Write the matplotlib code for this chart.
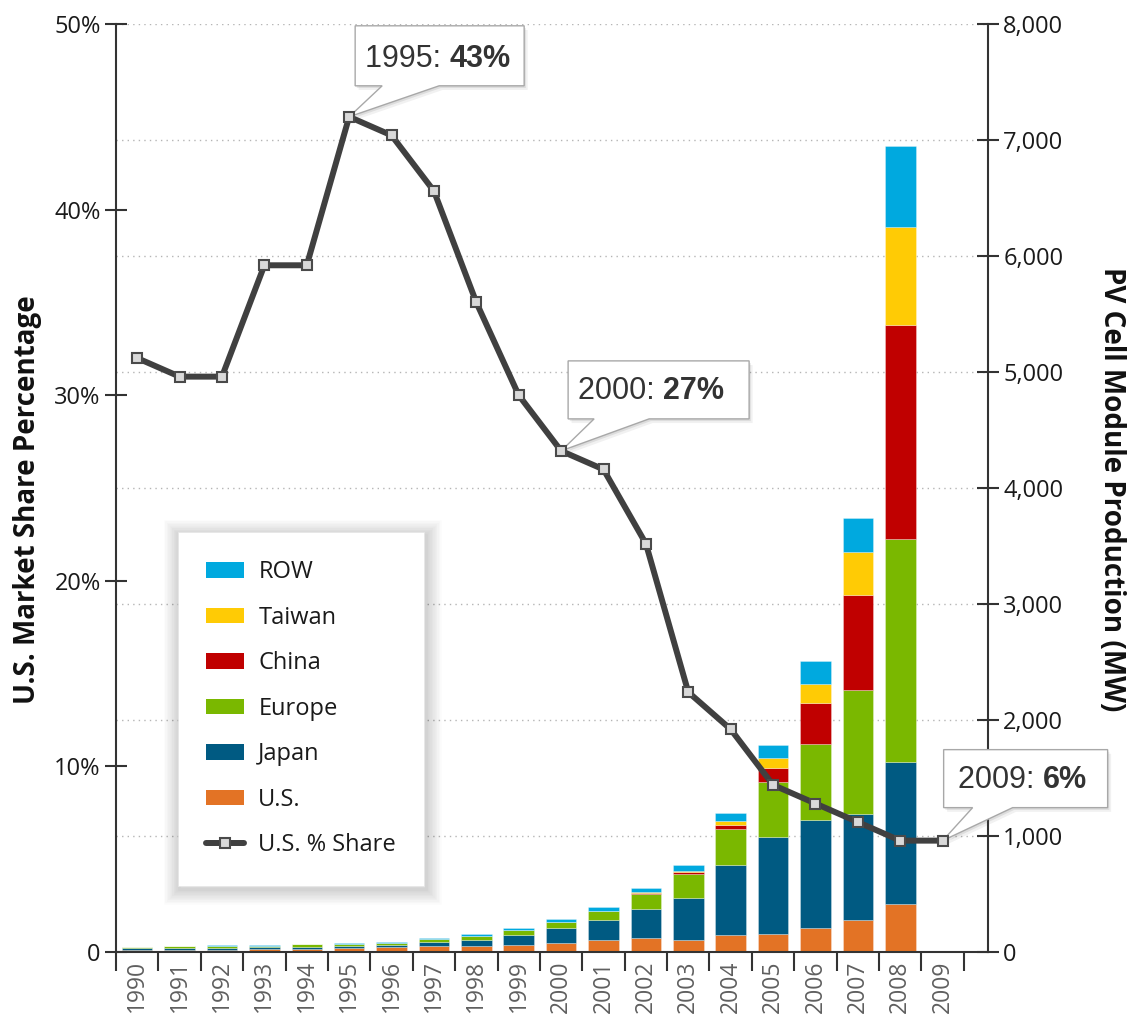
import numpy as np
import matplotlib
matplotlib.use("Agg")
import matplotlib.pyplot as plt
import matplotlib.transforms as mtransforms
import matplotlib.patheffects as pe
from matplotlib.patches import Patch, Polygon
from matplotlib.lines import Line2D

plt.rcParams['font.family'] = ['Open Sans', 'DejaVu Sans']

# ---- data ----
years = list(range(1990, 2010))
bar_years = years[:-1]          # no production bar drawn for 2009

# PV cell / module production by region, MW (stack order bottom -> top)
us_mw     = [15, 17, 18, 22, 26, 35, 39, 51, 55, 64, 78, 107, 124, 107, 144, 159, 207, 273, 417]
japan_mw  = [17, 20, 19, 17, 17, 16, 21, 35, 52, 80, 129, 166, 250, 362, 603, 832, 928, 920, 1221]
europe_mw = [10, 13, 16, 17, 22, 20, 19, 30, 31, 43, 49, 84, 126, 203, 311, 474, 661, 1063, 1925]
china_mw  = [0] * 12 + [10, 14, 40, 125, 348, 821, 1839]
taiwan_mw = [0] * 12 + [3, 13, 31, 86, 170, 371, 845]
row_mw    = [5, 5, 5, 4, 6, 6, 10, 9, 21, 20, 26, 34, 40, 54, 73, 112, 192, 293, 698]

# U.S. share of world production, %
us_share = [32, 31, 31, 37, 37, 45, 44, 41, 35, 30, 27, 26, 22, 14, 12, 9, 8, 7, 6, 6]

series_names = ['U.S.', 'Japan', 'Europe', 'China', 'Taiwan', 'ROW']
series_vals = [us_mw, japan_mw, europe_mw, china_mw, taiwan_mw, row_mw]
series_cols = ['#e37325', '#005a82', '#7ab800', '#c00000', '#ffcb05', '#00a9df']

pct_ticks = [0, 10, 20, 30, 40, 50]
pct_labels = ['0', '10%', '20%', '30%', '40%', '50%']
mw_ticks = [0, 1000, 2000, 3000, 4000, 5000, 6000, 7000, 8000]
mw_labels = ['0', '1,000', '2,000', '3,000', '4,000', '5,000', '6,000', '7,000', '8,000']

callout_years = [1995, 2000, 2009]
callout_values = ['43%', '27%', '6%']

# callout geometry in pixels relative to the marker: box x0,x1,y0,y1, tail base t0,t1, text x,y
bubble_geom = {1995: (6, 175, 31, 91, 33, 90, 16, 50),
               2000: (7, 188, 32, 90, 33, 88, 17, 52),
               2009: (1, 165, 33, 91, 30, 70, 15, 53)}

# ---- figure ----
W, H = 1128, 1019
fig = plt.figure(figsize=(W / 100, H / 100), dpi=100)
ax_mw = fig.add_axes([116 / W, 1 - 952 / H, (988 - 116) / W, (952 - 24) / H])
ax_pct = ax_mw.twinx()

x_bar = np.arange(len(bar_years))
x_all = np.arange(len(years))

# stacked bars
bottom = np.zeros(len(bar_years))
for name, vals, col in zip(series_names, series_vals, series_cols):
    ax_mw.bar(x_bar, vals, width=0.72, bottom=bottom, color=col,
              edgecolor=(1, 1, 1, 0.35), linewidth=0.6, zorder=2)
    bottom += np.array(vals)

# share line
ax_pct.plot(x_all, us_share, color='#404040', lw=4.3, marker='s', ms=7,
            mfc='#d9d9d9', mec='#4a4a4a', mew=1.5, zorder=3)

# axes: right = MW, left = %
ax_mw.yaxis.tick_right()
ax_mw.yaxis.set_label_position('right')
ax_pct.yaxis.tick_left()
ax_pct.yaxis.set_label_position('left')

ax_mw.set_yticks(mw_ticks)
ax_mw.set_yticklabels(mw_labels)
ax_pct.set_yticks(pct_ticks)
ax_pct.set_yticklabels(pct_labels)

ax_mw.set_xticks(np.arange(-0.5, len(years), 1))
ax_mw.set_xticklabels([])
ax_mw.set_xticks(x_all, minor=True)
ax_mw.set_xticklabels([str(y) for y in years], minor=True, rotation=90)

ax_mw.tick_params(axis='x', which='major', direction='out', length=14, width=1.5, color='#333333')
ax_mw.tick_params(axis='x', which='minor', length=0, pad=6, labelsize=16.5, labelcolor='#5f5f5f')
ax_mw.tick_params(axis='y', direction='inout', length=16, width=1.5, color='#333333',
                  labelsize=17, labelcolor='#1a1a1a', pad=3)
ax_pct.tick_params(axis='y', direction='inout', length=16, width=1.5, color='#333333',
                   labelsize=17, labelcolor='#1a1a1a', pad=3)

ax_mw.yaxis.grid(True, linestyle=(0, (1, 3)), color='#b5b5b5', linewidth=1)
ax_mw.set_axisbelow(True)

for s in ['top', 'left']:
    ax_mw.spines[s].set_visible(False)
for s in ['right', 'bottom']:
    ax_mw.spines[s].set_color('#333333')
    ax_mw.spines[s].set_linewidth(1.5)
for s in ['top', 'right', 'bottom']:
    ax_pct.spines[s].set_visible(False)
ax_pct.spines['left'].set_color('#333333')
ax_pct.spines['left'].set_linewidth(1.5)

ax_pct.set_ylabel('U.S. Market Share Percentage', fontsize=20, weight='bold', color='#111111', va='center')
ax_pct.yaxis.set_label_coords((28 - 116) / 872, (952 - 500) / 928)
ax_mw.set_ylabel('PV Cell Module Production (MW)', fontsize=20, weight='bold', color='#111111',
                 rotation=270, va='center')
ax_mw.yaxis.set_label_coords((1112 - 116) / 872, (952 - 489) / 928)

# legend
handles = [Patch(facecolor=c, edgecolor='none') for c in series_cols[::-1]]
labels = series_names[::-1]
handles.append(Line2D([], [], color='#404040', lw=4.3, marker='s', ms=7, mfc='#d9d9d9',
                      mec='#4a4a4a', mew=1.5, solid_capstyle='round'))
labels.append('U.S. % Share')
leg = ax_pct.legend(handles, labels, loc='upper left', bbox_to_anchor=(178 / W, 1 - 532 / H),
                    bbox_transform=fig.transFigure, borderaxespad=0, fancybox=False,
                    framealpha=1, edgecolor='#e6e6e6', fontsize=17, labelspacing=0.91,
                    handlelength=1.6, handleheight=0.65, handletextpad=0.6, borderpad=1.2,
                    numpoints=1)
for t in leg.get_texts():
    t.set_color('#1a1a1a')
leg.get_frame().set_linewidth(0.5)
leg.get_frame().set_path_effects(
    [pe.Stroke(linewidth=w, foreground='k', alpha=0.016, offset=(1, -2.5)) for w in range(22, 1, -2)]
    + [pe.Normal()])

# callouts
for yr, val in zip(callout_years, callout_values):
    i = years.index(yr)
    x0, x1, y0, y1, t0, t1, tx, ty = [v / 100 for v in bubble_geom[yr]]
    trans = fig.dpi_scale_trans + mtransforms.ScaledTranslation(i, us_share[i], ax_pct.transData)
    verts = [(t1, y0), (x1, y0), (x1, y1), (x0, y1), (x0, y0), (t0, y0), (0, 0)]
    poly = Polygon(verts, closed=True, transform=trans, fc='white', ec='#a8a8a8', lw=1,
                   zorder=2.6, clip_on=False)
    poly.set_path_effects([pe.SimplePatchShadow(offset=(2.5, -3), alpha=0.08),
                           pe.SimplePatchShadow(offset=(1.2, -1.6), alpha=0.12),
                           pe.Normal()])
    ax_pct.add_patch(poly)
    txt = ax_pct.text(tx, ty, f'{yr}: ', transform=trans, fontsize=22, color='#333333',
                      family='Liberation Sans', va='baseline', ha='left', zorder=2.7)
    ax_pct.annotate(val, xy=(1, 0), xycoords=txt, fontsize=22, color='#333333',
                    family='Liberation Sans', weight='bold', va='bottom', ha='left', zorder=2.7)

ax_mw.set_xlim(-0.5, 20.07)
ax_mw.set_ylim(0, 8000)
ax_pct.set_ylim(0, 50)

fig.savefig('out.png', dpi=100)
